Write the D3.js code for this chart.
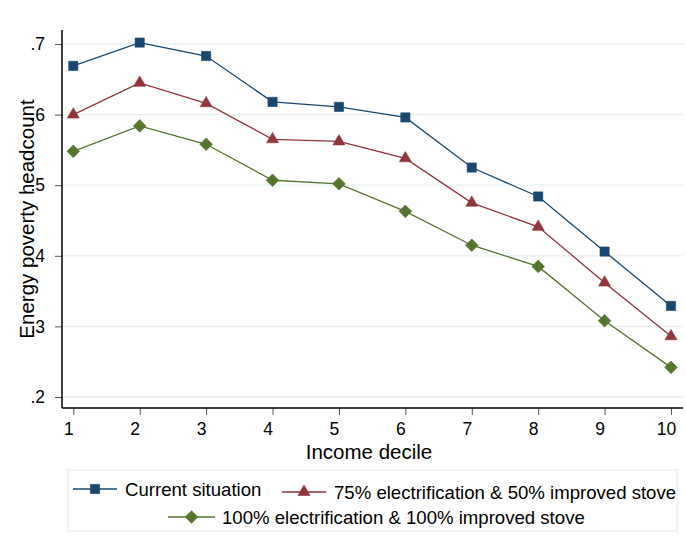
<!DOCTYPE html>
<html><head><meta charset="utf-8">
<script src="https://cdn.jsdelivr.net/npm/d3@7"></script>
<style>body{margin:0;background:#fff}svg{display:block}text{font-family:"Liberation Sans",Arial,sans-serif;fill:#000}</style>
</head><body>
<script>
const deciles = [1,2,3,4,5,6,7,8,9,10];
const current = [0.669,0.702,0.683,0.618,0.611,0.596,0.525,0.484,0.406,0.329];
const scen75 = [0.600,0.645,0.616,0.565,0.562,0.538,0.475,0.441,0.362,0.286];
const scen100 = [0.548,0.584,0.558,0.507,0.502,0.463,0.415,0.385,0.308,0.242];
const yTicks = [0.2,0.3,0.4,0.5,0.6,0.7];
const yTickLabels = [".2",".3",".4",".5",".6",".7"];
const seriesNames = ["Current situation","75% electrification & 50% improved stove","100% electrification & 100% improved stove"];

(function(){
const W=686,H=552;
const svg=d3.select("body").append("svg").attr("width",W).attr("height",H);
const pL=62,pR=683,pT=30,pB=408;
const x=d3.scaleLinear().domain([1,10]).range([73.3,671]);
const y=d3.scaleLinear().domain([0.2,0.7]).range([397,44]);

// gridlines
svg.append("g").selectAll("line").data(yTicks).join("line")
  .attr("x1",pL).attr("x2",pR).attr("y1",d=>y(d)).attr("y2",d=>y(d))
  .attr("stroke","#e6f0f1").attr("stroke-width",1.3);

// y axis
const yAxis=d3.axisLeft(y).tickValues(yTicks).tickFormat((d,i)=>yTickLabels[i]).tickSize(7).tickPadding(10).tickSizeOuter(0);
const gy=svg.append("g").attr("transform",`translate(${pL},0)`).call(yAxis);
gy.select(".domain").remove();
gy.selectAll(".tick line").attr("stroke","#555");
gy.selectAll(".tick text").style("font-size","17.5px").attr("font-family","Liberation Sans, Arial, sans-serif").attr("fill","#000");
svg.append("line").attr("x1",pL).attr("x2",pL).attr("y1",pT).attr("y2",pB).attr("stroke","#000").attr("stroke-width",1.5);

// x axis
const xAxis=d3.axisBottom(x).tickValues(deciles).tickFormat(d3.format("d")).tickSize(7).tickPadding(8).tickSizeOuter(0);
const gx=svg.append("g").attr("transform",`translate(0,${pB})`).call(xAxis);
gx.select(".domain").remove();
gx.selectAll(".tick line").attr("stroke","#555");
gx.selectAll(".tick text").style("font-size","17.5px").attr("font-family","Liberation Sans, Arial, sans-serif").attr("fill","#000").attr("dx","-5");
svg.append("line").attr("x1",pL).attr("x2",pR).attr("y1",pB).attr("y2",pB).attr("stroke","#000").attr("stroke-width",1.5);

// titles
svg.append("text").attr("x",369).attr("y",459).attr("text-anchor","middle").style("font-size","20.5px").text("Income decile");
svg.append("text").attr("transform","translate(34,219) rotate(-90)").attr("text-anchor","middle").style("font-size","20.5px").text("Energy poverty headcount");

const colors=["#1a476f","#90353b","#55752f"];
const symSquare=d3.symbol().type(d3.symbolSquare).size(85);
const symTri=d3.symbol().type(d3.symbolTriangle).size(62);
const symDia=d3.symbol().type(d3.symbolSquare).size(80);
const syms=[{p:symSquare(),r:0},{p:symTri(),r:0},{p:symDia(),r:45}];
const data=[current,scen75,scen100];
const line=d3.line().x((d,i)=>x(deciles[i])).y(d=>y(d));

data.forEach((vals,k)=>{
  svg.append("path").datum(vals).attr("d",line).attr("fill","none").attr("stroke",colors[k]).attr("stroke-width",1.3);
  svg.append("g").selectAll("path").data(vals).join("path")
    .attr("d",syms[k].p)
    .attr("transform",(d,i)=>`translate(${x(deciles[i])},${y(d)}) rotate(${syms[k].r})`)
    .attr("fill",colors[k]).attr("stroke",colors[k]).attr("stroke-width",0.6);
});

// legend
svg.append("rect").attr("x",68).attr("y",470).attr("width",609).attr("height",61).attr("fill","#fff").attr("stroke","#e6f0f1").attr("stroke-width",1.3);
const leg=[
  {x1:73,x2:117,cy:489,tx:125,ty:495.5},
  {x1:282,x2:326,cy:492,tx:334,ty:499},
  {x1:168,x2:215,cy:517,tx:222,ty:523.5}
];
leg.forEach((L,k)=>{
  svg.append("line").attr("x1",L.x1).attr("x2",L.x2).attr("y1",L.cy).attr("y2",L.cy).attr("stroke",colors[k]).attr("stroke-width",1.3);
  svg.append("path").attr("d",syms[k].p).attr("transform",`translate(${(L.x1+L.x2)/2},${L.cy}) rotate(${syms[k].r})`).attr("fill",colors[k]).attr("stroke",colors[k]).attr("stroke-width",0.6);
  svg.append("text").attr("x",L.tx).attr("y",L.ty).style("font-size","18.6px").text(seriesNames[k]);
});
})();
</script>
</body></html>
